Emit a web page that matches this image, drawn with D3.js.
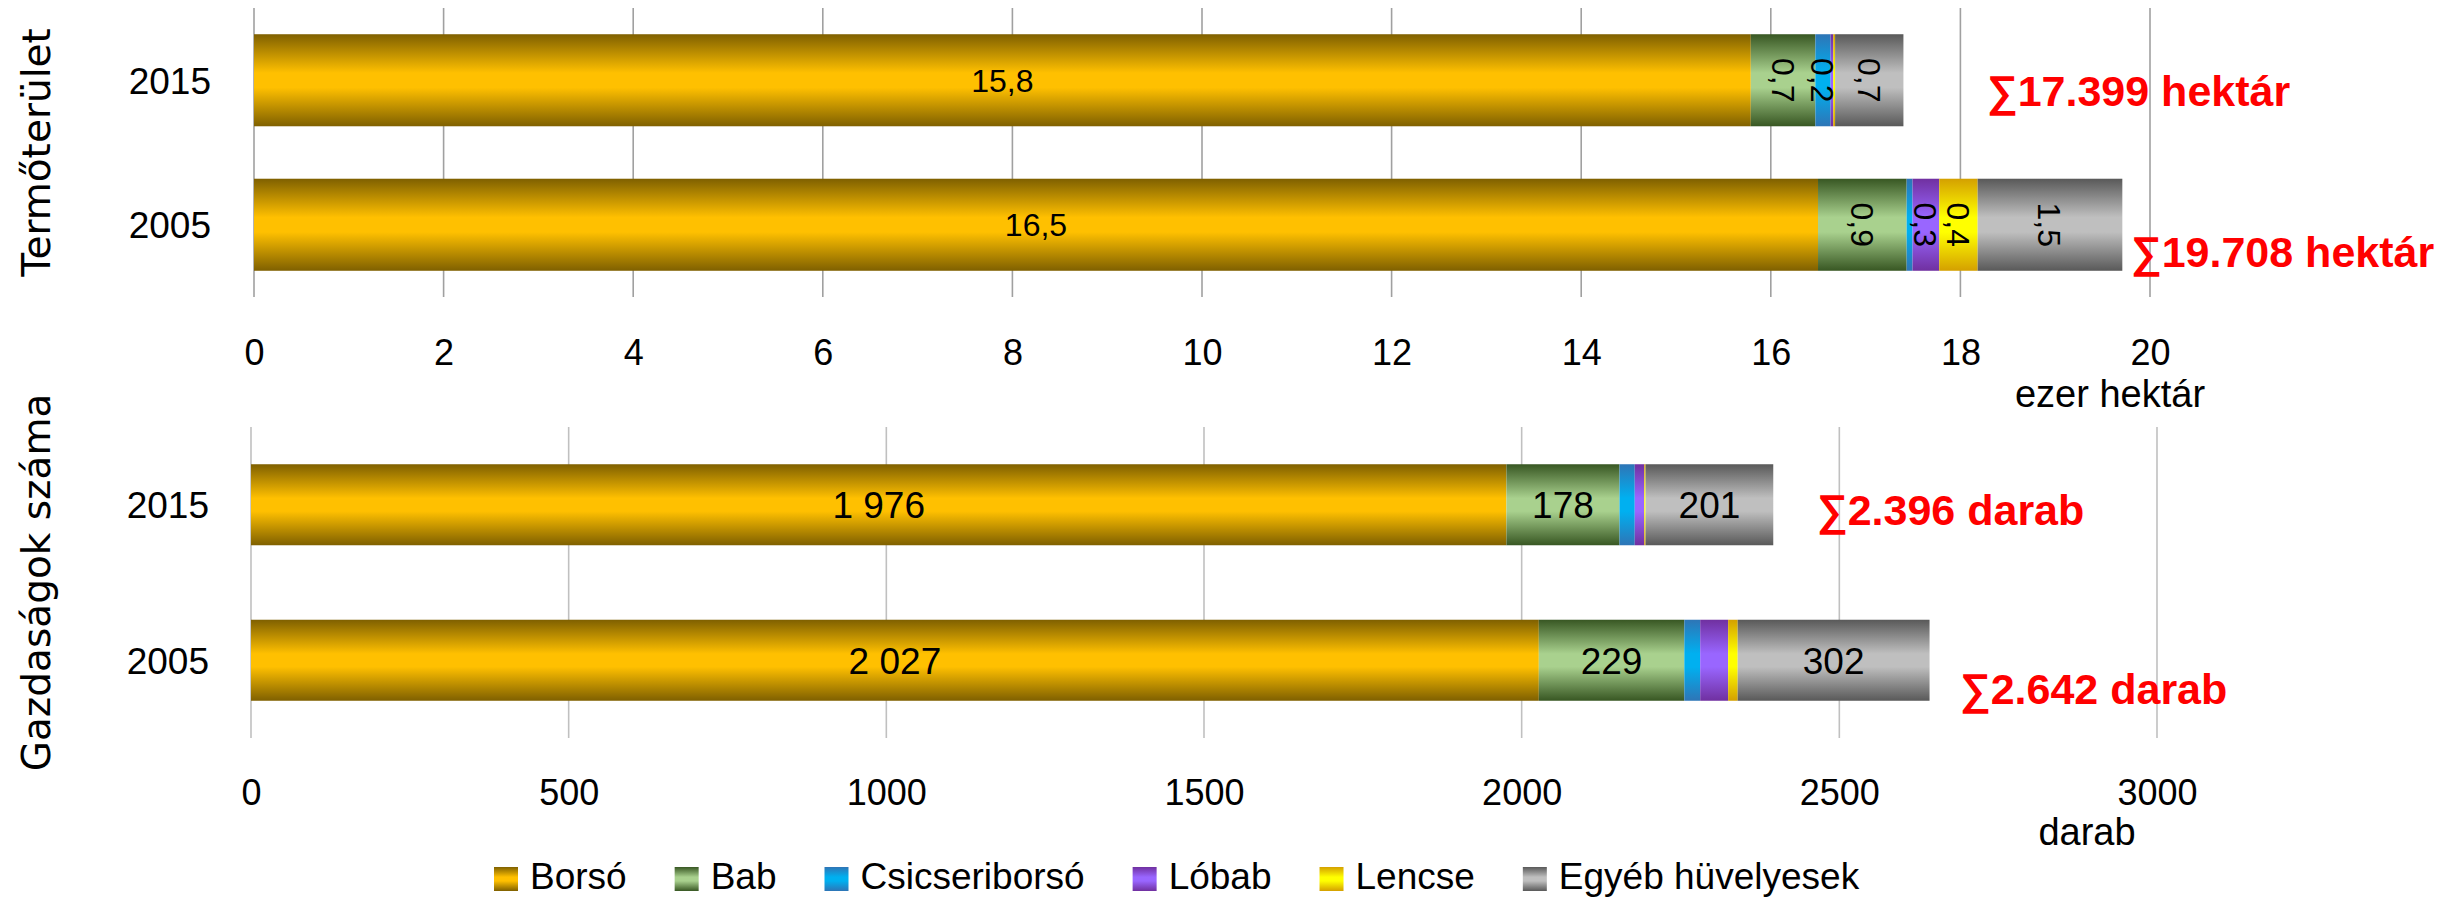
<!DOCTYPE html>
<html>
<head>
<meta charset="utf-8">
<script src="https://cdn.jsdelivr.net/npm/d3@7"></script>
<style>
  html, body { margin: 0; padding: 0; background: #ffffff; }
  svg { display: block; }
</style>
</head>
<body>
<script>
// ---------------- DATA ----------------
const seriesNames = ["Borsó", "Bab", "Csicseriborsó", "Lóbab", "Lencse", "Egyéb hüvelyesek"];
const years = ["2015", "2005"];

// Termőterület (ezer hektár), order as seriesNames
const area2015 = [15.789, 0.681, 0.161, 0.028, 0.019, 0.721];
const area2005 = [16.498, 0.935, 0.062, 0.282, 0.405, 1.526];

// Gazdaságok száma (darab)
const farms2015 = [1976, 178, 24, 15, 2, 201];
const farms2005 = [2027, 229, 25, 44, 15, 302];

const areaTicks = [0, 2, 4, 6, 8, 10, 12, 14, 16, 18, 20];
const farmTicks = [0, 500, 1000, 1500, 2000, 2500, 3000];

const areaTotalLabels = ["∑17.399 hektár", "∑19.708 hektár"];
const farmTotalLabels = ["∑2.396 darab", "∑2.642 darab"];

const areaTitle = "Termőterület";
const farmTitle = "Gazdaságok száma";
const areaUnit = "ezer hektár";
const farmUnit = "darab";

// ---------------- STYLE ----------------
const W = 2438, H = 897;
const FONT = "'Liberation Sans', Arial, sans-serif";
const TITLE_FONT = "'DejaVu Sans', Verdana, sans-serif";
const gradColors = [
  ["#7f6000", "#ffc000"],
  ["#385723", "#a9d18e"],
  ["#2e75b6", "#00b0f0"],
  ["#7030a0", "#9966ff"],
  ["#d4a000", "#ffff00"],
  ["#595959", "#bfbfbf"]
];

const svg = d3.select("body").append("svg")
  .attr("width", W).attr("height", H)
  .attr("viewBox", `0 0 ${W} ${H}`);

const defs = svg.append("defs");
gradColors.forEach((c, i) => {
  const g = defs.append("linearGradient")
    .attr("id", "grad" + i)
    .attr("x1", 0).attr("y1", 0).attr("x2", 0).attr("y2", 1);
  g.append("stop").attr("offset", "0%").attr("stop-color", c[0]);
  g.append("stop").attr("offset", "42%").attr("stop-color", c[1]);
  g.append("stop").attr("offset", "58%").attr("stop-color", c[1]);
  g.append("stop").attr("offset", "100%").attr("stop-color", c[0]);
});

const locale = d3.formatLocale({ decimal: ",", thousands: " ", grouping: [3], currency: ["", ""] });
const fmtArea = locale.format(".1f");
const fmtFarm = locale.format(",d");

function drawPanel(cfg) {
  const g = svg.append("g");
  const x = d3.scaleLinear().domain(cfg.domain).range(cfg.xRange);
  const y = d3.scaleBand().domain(years).range(cfg.yRange)
    .paddingInner(cfg.pad).paddingOuter(cfg.pad / 2);

  // gridlines
  g.append("g").selectAll("line").data(cfg.ticks).join("line")
    .attr("x1", d => x(d)).attr("x2", d => x(d))
    .attr("y1", cfg.yRange[0]).attr("y2", cfg.yRange[1])
    .attr("stroke", cfg.gridColor).attr("stroke-width", 1.6);

  // tick labels via axis
  const axis = d3.axisBottom(x).tickValues(cfg.ticks).tickSize(0).tickPadding(0)
    .tickFormat(d3.format("d"));
  const ax = g.append("g").attr("transform", `translate(0,${cfg.tickBaseline})`).call(axis);
  ax.select(".domain").remove();
  ax.selectAll("text")
    .attr("y", 0).attr("dy", 0)
    .style("font-family", FONT).style("font-size", "36px").attr("fill", "#000");

  // stacked data
  const rows = cfg.rows.map((vals, i) => {
    const o = { year: years[i] };
    vals.forEach((v, j) => o["s" + j] = v);
    return o;
  });
  const keys = seriesNames.map((_, j) => "s" + j);
  const stacked = d3.stack().keys(keys)(rows);

  const layers = g.append("g").selectAll("g").data(stacked).join("g")
    .attr("fill", (d, i) => `url(#grad${i})`);
  layers.selectAll("rect").data(d => d).join("rect")
    .attr("x", d => x(d[0]))
    .attr("width", d => Math.max(0, x(d[1]) - x(d[0])))
    .attr("y", d => y(d.data.year))
    .attr("height", y.bandwidth());

  // value labels
  const lab = g.append("g");
  stacked.forEach((layer, si) => {
    layer.forEach(d => {
      const v = d[1] - d[0];
      if (v < cfg.labelMin) return;
      const cx = (x(d[0]) + x(d[1])) / 2;
      const cy = y(d.data.year) + y.bandwidth() / 2;
      const rot = cfg.rotate(si);
      lab.append("text")
        .attr("transform", `translate(${cx},${cy}) rotate(${rot ? 90 : 0})`)
        .attr("text-anchor", "middle")
        .attr("dy", "0.36em")
        .style("font-family", FONT).style("font-size", cfg.labelSize + "px")
        .attr("fill", "#000")
        .text(cfg.fmt(v));
    });
  });

  // category labels
  g.append("g").selectAll("text").data(years).join("text")
    .attr("x", cfg.catX).attr("y", d => y(d) + y.bandwidth() / 2)
    .attr("dy", "0.36em").attr("text-anchor", "end")
    .style("font-family", FONT).style("font-size", "37px")
    .text(d => d);

  // axis title
  g.append("text")
    .attr("transform", `translate(50,${(cfg.yRange[0] + cfg.yRange[1]) / 2}) rotate(-90)`)
    .attr("text-anchor", "middle")
    .style("font-family", TITLE_FONT).style("font-size", "39px")
    .text(cfg.title);

  // unit label
  g.append("text")
    .attr("x", cfg.unitPos[0]).attr("y", cfg.unitPos[1])
    .attr("text-anchor", "middle")
    .style("font-family", FONT).style("font-size", "38px")
    .text(cfg.unit);

  // totals
  g.append("g").selectAll("text").data(cfg.totals).join("text")
    .attr("x", (d, i) => cfg.totalPos[i][0]).attr("y", (d, i) => cfg.totalPos[i][1])
    .style("font-family", FONT).style("font-size", "43px").style("font-weight", "bold")
    .attr("fill", "#ff0000")
    .text(d => d);
}

drawPanel({
  rows: [area2015, area2005],
  domain: [0, 20], xRange: [254, 2150], yRange: [8, 297], pad: 0.363,
  ticks: areaTicks, tickBaseline: 365, gridColor: "#a0a0a0",
  labelMin: 0.1, labelSize: 32, fmt: fmtArea, rotate: si => si > 0,
  catX: 211, title: areaTitle, unit: areaUnit, unitPos: [2110, 407],
  totals: areaTotalLabels, totalPos: [[1987, 106], [2131, 267]]
});

drawPanel({
  rows: [farms2015, farms2005],
  domain: [0, 3000], xRange: [251, 2157], yRange: [427, 738], pad: 0.479,
  ticks: farmTicks, tickBaseline: 805, gridColor: "#c0c0c0",
  labelMin: 100, labelSize: 37, fmt: fmtFarm, rotate: si => false,
  catX: 209, title: farmTitle, unit: farmUnit, unitPos: [2087, 845],
  totals: farmTotalLabels, totalPos: [[1817, 525], [1960, 704]]
});

// legend
const legend = svg.append("g");
let lx = 494;
seriesNames.forEach((name, i) => {
  legend.append("rect")
    .attr("x", lx).attr("y", 867).attr("width", 24).attr("height", 24)
    .attr("fill", `url(#grad${i})`);
  const t = legend.append("text")
    .attr("x", lx + 36).attr("y", 889)
    .style("font-family", FONT).style("font-size", "37px")
    .text(name);
  const w = t.node().getComputedTextLength();
  lx = lx + 36 + w + 48;
});
</script>
</body>
</html>
